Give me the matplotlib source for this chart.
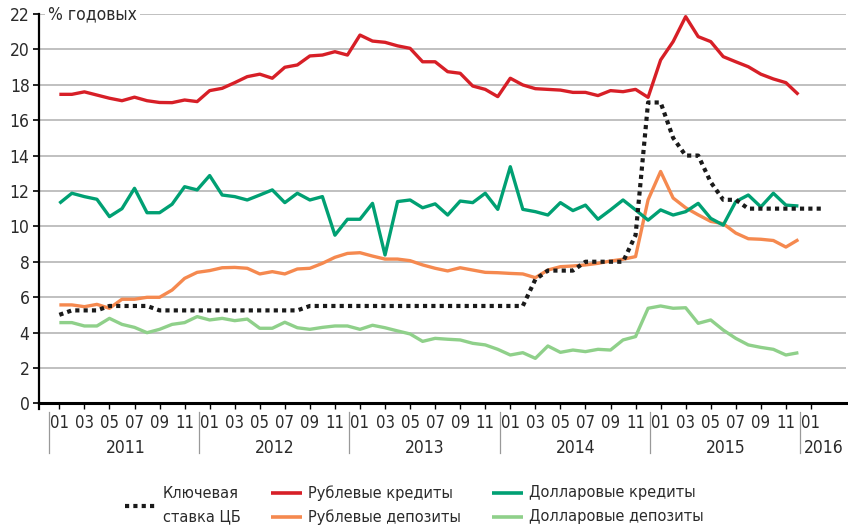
import numpy as np
import matplotlib
matplotlib.use("Agg")
import matplotlib.pyplot as plt
from matplotlib.lines import Line2D
import matplotlib.transforms as mtransforms
from matplotlib import font_manager as fm
from matplotlib.ft2font import FT2Font


def has_cyrillic(path):
    try:
        cmap = FT2Font(path).get_charmap()
    except Exception:
        return False
    return all(ord(ch) in cmap for ch in "ыдЦБ%")


# pick a narrow font with Cyrillic if one is installed
narrow = None
for f in fm.fontManager.ttflist:
    is_narrow = ("Narrow" in f.name or "Condensed" in f.name
                 or f.stretch in ("condensed", "semi-condensed"))
    if is_narrow and f.weight in (400, "normal", "regular") and f.style == "normal":
        if has_cyrillic(f.fname):
            narrow = f
            break

if narrow is not None:
    plt.rcParams["font.family"] = [narrow.name, "DejaVu Sans"]
    plt.rcParams["font.stretch"] = narrow.stretch
    FS = 12.5
else:
    plt.rcParams["font.family"] = ["Liberation Sans", "DejaVu Sans"]
    FS = 11.5
TXT = "#2a2a2a"
plt.rcParams["text.color"] = TXT
plt.rcParams["xtick.labelcolor"] = TXT
plt.rcParams["ytick.labelcolor"] = TXT

# ── Data (monthly, Jan 2011 = 0) ─────────────────────────────────────────────
MONTH_LABELS = ["01", "03", "05", "07", "09", "11"]
YEARS = ["2011", "2012", "2013", "2014", "2015", "2016"]

key_rate = [5.0, 5.25, 5.25, 5.25, 5.5, 5.5, 5.5, 5.5,
            5.25, 5.25, 5.25, 5.25, 5.25, 5.25, 5.25, 5.25, 5.25, 5.25, 5.25, 5.25,
            5.5, 5.5, 5.5, 5.5, 5.5, 5.5, 5.5, 5.5, 5.5, 5.5, 5.5, 5.5, 5.5, 5.5,
            5.5, 5.5, 5.5, 5.5,
            7.0, 7.5, 7.5, 7.5, 8.0, 8.0, 8.0, 8.0, 9.5,
            17.0, 17.0, 15.0, 14.0, 14.0, 12.5, 11.5, 11.5, 11.0,
            11.0, 11.0, 11.0, 11.0, 11.0, 11.0]

rub_loans = [17.46, 17.46, 17.6, 17.42, 17.24, 17.1, 17.3, 17.1, 17.0, 16.99, 17.14, 17.05,
             17.67, 17.8, 18.12, 18.46, 18.6, 18.37, 18.99, 19.12, 19.63, 19.68, 19.87, 19.68,
             20.81, 20.47, 20.4, 20.2, 20.06, 19.3, 19.3, 18.74, 18.65, 17.93, 17.74, 17.33,
             18.37, 17.99, 17.78, 17.74, 17.7, 17.57, 17.57, 17.39, 17.67, 17.61, 17.74, 17.29,
             19.4, 20.44, 21.85, 20.72, 20.44, 19.59, 19.3, 19.02, 18.6, 18.33, 18.12, 17.45]

rub_deposits = [5.56, 5.56, 5.46, 5.59, 5.37, 5.88, 5.88, 5.99, 5.99, 6.4, 7.06, 7.4,
                7.5, 7.66, 7.68, 7.63, 7.31, 7.44, 7.31, 7.59, 7.63, 7.91, 8.25, 8.47,
                8.51, 8.32, 8.15, 8.15, 8.06, 7.82, 7.63, 7.48, 7.66, 7.53, 7.4, 7.38,
                7.34, 7.31, 7.1, 7.53, 7.72, 7.76, 7.82, 7.91, 8.04, 8.14, 8.29, 11.5,
                13.1, 11.6, 11.05, 10.65, 10.28, 10.15, 9.62, 9.3, 9.27, 9.2, 8.83, 9.25]

usd_loans = [11.3, 11.87, 11.68, 11.53, 10.55, 11.0, 12.15, 10.77, 10.77, 11.25, 12.24, 12.06,
             12.87, 11.77, 11.68, 11.49, 11.77, 12.06, 11.34, 11.87, 11.49, 11.68, 9.5, 10.4,
             10.4, 11.3, 8.38, 11.4, 11.49, 11.05, 11.27, 10.64, 11.43, 11.34, 11.87, 10.96,
             13.37, 10.96, 10.83, 10.64, 11.34, 10.89, 11.2, 10.4, 10.93, 11.49, 10.93, 10.35,
             10.93, 10.64, 10.83, 11.3, 10.45, 10.07, 11.4, 11.77, 11.1, 11.87, 11.2, 11.15]

usd_deposits = [4.56, 4.56, 4.37, 4.37, 4.8, 4.46, 4.29, 3.99, 4.18, 4.46, 4.56, 4.9,
                4.71, 4.8, 4.67, 4.76, 4.24, 4.24, 4.58, 4.27, 4.18, 4.29, 4.37, 4.37,
                4.18, 4.41, 4.27, 4.09, 3.92, 3.5, 3.67, 3.62, 3.58, 3.39, 3.3, 3.05,
                2.73, 2.86, 2.54, 3.24, 2.88, 3.01, 2.92, 3.05, 3.01, 3.58, 3.77, 5.37,
                5.5, 5.37, 5.4, 4.52, 4.71, 4.14, 3.67, 3.3, 3.16, 3.05, 2.73, 2.86]

# ── Style ─────────────────────────────────────────────────────────────────────
C_KEY = "#1a1a1a"
C_RUB_L = "#d71f27"
C_RUB_D = "#f5894f"
C_USD_L = "#00a073"
C_USD_D = "#8fd08a"

W, H = 848, 527
fig = plt.figure(figsize=(W / 100, H / 100), dpi=100)
ax = fig.add_axes([39.3 / W, 1 - 403.3 / H, (846 - 39.3) / W, (403.3 - 14) / H])

x60 = np.arange(len(rub_loans))
x_key = np.arange(len(key_rate))

ax.plot(x60, usd_deposits, color=C_USD_D, lw=2.4, solid_capstyle="butt", zorder=3)
ax.plot(x60, rub_deposits, color=C_RUB_D, lw=2.4, solid_capstyle="butt", zorder=3)
ax.plot(x60, usd_loans, color=C_USD_L, lw=2.4, solid_capstyle="butt", zorder=3)
ax.plot(x60, rub_loans, color=C_RUB_L, lw=2.4, solid_capstyle="butt", zorder=3)
ax.plot(x_key, key_rate, color=C_KEY, lw=3, linestyle=(0, (1, 1)),
        dash_capstyle="butt", zorder=4)

# axes
ax.set_ylim(0, 22)
ax.set_xlim(-1.6, 62.8)
ax.set_yticks(np.arange(0, 23, 2))
ax.tick_params(axis="y", direction="out", length=4, width=1.2, labelsize=FS, pad=3)
ax.grid(axis="y", color="#b5b5b5", lw=1.2, zorder=0)
ax.set_axisbelow(True)
for s in ["top", "right"]:
    ax.spines[s].set_visible(False)
ax.spines["left"].set_linewidth(1.6)
ax.spines["bottom"].set_linewidth(2.2)
ax.spines["bottom"].set_zorder(5)
# y axis extends a bit below zero
ax.plot([-1.6, -1.6], [0, -0.35], color="black", lw=1.6, clip_on=False)

month_ticks = np.arange(0, 61, 2)
month_text = [MONTH_LABELS[(t % 12) // 2] for t in month_ticks]
ax.set_xticks(month_ticks)
ax.set_xticklabels(month_text)
ax.tick_params(axis="x", direction="out", length=4, width=1.0, labelsize=FS - 0.5, pad=4)

# year separators and labels
trans = mtransforms.blended_transform_factory(ax.transData, ax.transAxes)
seps = [-0.85, 11.15, 23.15, 35.15, 47.15, 59.15]
for s in seps:
    ax.plot([s, s], [-0.022, -0.128], color="#999999", lw=0.9,
            transform=trans, clip_on=False)
year_centers = [5.3, 17.2, 29.2, 41.2, 53.2, 61.0]
for yc, yr in zip(year_centers, YEARS):
    ax.text(yc, -0.115, yr, transform=trans, ha="center", va="center", fontsize=FS)

# y unit label
ax.text(-0.9, 22, "% годовых", ha="left", va="center", fontsize=FS,
        bbox=dict(facecolor="white", edgecolor="none", pad=2), zorder=6)

# ── Legend (manual, figure pixels) ────────────────────────────────────────────
def fx(px):
    return px / W

def fy(py):
    return 1 - py / H

LFS = FS - 0.8
fig.add_artist(Line2D([fx(125), fx(156)], [fy(506), fy(506)], color=C_KEY, lw=3,
                      linestyle=(0, (1, 1)), dash_capstyle="butt"))
fig.text(fx(163), fy(493), "Ключевая", fontsize=LFS, va="center")
fig.text(fx(163), fy(517), "ставка ЦБ", fontsize=LFS, va="center")

entries = [
    (271, 493, C_RUB_L, "Рублевые кредиты"),
    (271, 517, C_RUB_D, "Рублевые депозиты"),
    (492, 493, C_USD_L, "Долларовые кредиты"),
    (492, 517, C_USD_D, "Долларовые депозиты"),
]
for px, py, c, lab in entries:
    fig.add_artist(Line2D([fx(px), fx(px + 31)], [fy(py), fy(py)], color=c, lw=2.6,
                          solid_capstyle="butt"))
    fig.text(fx(px + 37), fy(py), lab, fontsize=LFS, va="center")

fig.savefig("out.png", dpi=100)
